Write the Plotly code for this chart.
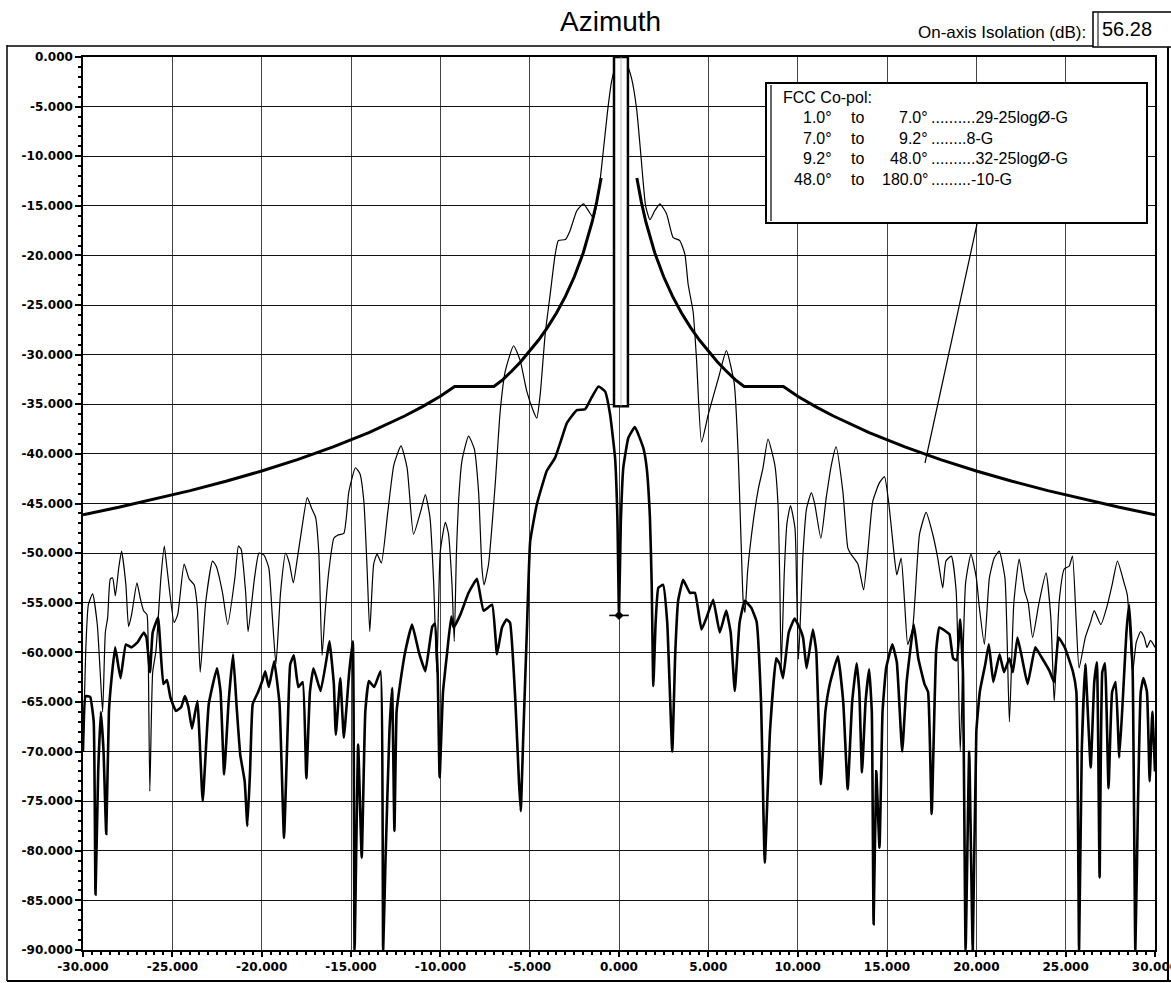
import plotly.graph_objects as go

# ---------------------------------------------------------------- data
# Co-polar azimuth pattern (normalised dB)
co_deg = [-30.0, -29.85, -29.7, -29.46, -29.2, -29.05, -28.9, -28.75, -28.62, -28.47, -28.34, -28.19,
          -28.0, -27.84, -27.6, -27.45, -27.28, -26.98, -26.8, -26.61, -26.42, -26.35, -26.26, -26.1,
          -25.92, -25.64, -25.45, -25.3, -24.9, -24.7, -24.34, -24.06, -23.78, -23.6, -23.44, -23.13,
          -22.75, -22.55, -22.2, -21.9, -21.5, -21.3, -21.15, -20.9, -20.76, -20.4, -20.15, -19.87,
          -19.6, -19.4, -19.2, -18.94, -18.66, -18.45, -18.23, -18.0, -17.75, -17.45, -17.2, -16.98,
          -16.8, -16.62, -16.45, -16.24, -15.96, -15.75, -15.4, -15.12, -14.75, -14.5, -14.28, -14.1,
          -13.95, -13.73, -13.54, -13.3, -12.95, -12.6, -12.2, -11.86, -11.5, -11.1, -10.84, -10.58,
          -10.37, -10.2, -10.0, -9.72, -9.55, -9.35, -9.22, -9.1, -8.98, -8.79, -8.42, -8.1,
          -7.86, -7.67, -7.55, -7.3, -6.93, -6.65, -6.37, -5.9, -5.53, -5.16, -4.79, -4.6,
          -4.41, -4.13, -3.85, -3.58, -3.39, -3.0, -2.74, -2.36, -1.99, -1.71, -1.43, -1.15,
          -0.91, -0.63, -0.41, -0.13, 0.15, 0.43, 0.71, 0.99, 1.23, 1.49, 1.73, 2.0,
          2.29, 2.66, 3.03, 3.4, 3.69, 3.87, 4.15, 4.34, 4.62, 5.0, 5.59, 6.01,
          6.45, 6.67, 6.85, 6.95, 7.05, 7.2, 7.5, 7.8, 8.06, 8.34, 8.72, 8.9,
          9.0, 9.08, 9.25, 9.4, 9.6, 9.85, 9.95, 10.05, 10.3, 10.5, 10.77, 10.95,
          11.3, 11.6, 11.9, 12.15, 12.53, 12.81, 12.98, 13.37, 13.69, 13.93, 14.2, 14.58,
          14.86, 15.1, 15.42, 15.55, 15.79, 15.98, 16.16, 16.44, 16.82, 17.19, 17.56, 17.84,
          18.12, 18.3, 18.6, 18.87, 19.1, 19.4, 19.7, 20.0, 20.17, 20.45, 20.73, 21.0,
          21.28, 21.6, 21.85, 22.1, 22.4, 22.7, 22.9, 23.15, 23.5, 23.9, 24.17, 24.36,
          24.64, 24.92, 25.2, 25.38, 25.58, 25.75, 26.1, 26.4, 26.6, 26.97, 27.34, 27.6,
          27.9, 28.27, 28.45, 28.6, 28.75, 28.95, 29.2, 29.4, 29.55, 29.75, 30.0]
co_db = [-70.0, -60.0, -55.2, -54.1, -57.2, -61.6, -66.0, -58.0, -56.5, -52.6, -52.5, -54.3,
         -51.5, -49.8, -53.2, -57.4, -56.2, -53.0, -54.5, -55.8, -56.2, -60.0, -74.0, -62.0,
         -59.9, -52.5, -49.3, -51.5, -57.0, -56.2, -51.1, -52.6, -53.2, -55.5, -62.0, -54.9,
         -50.8, -51.3, -53.9, -57.2, -52.5, -49.3, -49.6, -53.9, -57.9, -52.5, -50.0, -50.2,
         -51.5, -56.5, -61.2, -53.9, -50.0, -51.0, -53.0, -50.5, -47.5, -44.4, -45.5, -46.4,
         -50.0, -60.3, -56.0, -51.8, -48.5, -48.2, -48.0, -43.8, -41.4, -42.0, -44.8, -51.5,
         -57.9, -51.1, -50.1, -51.0, -46.0, -41.1, -39.2, -41.4, -48.1, -45.8, -44.1, -46.4,
         -53.1, -62.0, -49.8, -46.9, -48.0, -53.1, -58.9, -50.0, -44.8, -40.7, -38.2, -39.5,
         -43.8, -51.5, -53.2, -51.1, -43.1, -35.7, -31.7, -29.1, -30.6, -33.7, -35.7, -36.4,
         -34.0, -27.9, -23.9, -20.0, -18.5, -18.4, -17.5, -15.5, -14.8, -15.5, -16.2, -13.8,
         -10.0, -5.3, -2.4, -0.6, 0.0, -0.7, -2.2, -5.3, -10.0, -15.0, -16.4, -15.5,
         -14.8, -15.8, -18.2, -18.5, -19.9, -22.9, -25.7, -30.5, -38.8, -36.0, -32.2, -29.6,
         -32.9, -40.0, -49.8, -54.8, -56.0, -51.8, -47.0, -43.5, -41.4, -38.5, -41.1, -45.1,
         -53.0, -61.6, -52.0, -47.0, -45.2, -47.5, -54.0, -60.7, -50.0, -45.5, -43.9, -45.0,
         -48.5, -44.4, -41.0, -39.3, -43.8, -49.5, -50.1, -51.1, -53.7, -49.8, -44.8, -42.9,
         -42.3, -45.0, -50.5, -52.2, -50.5, -54.8, -59.2, -57.5, -48.1, -45.9, -48.1, -50.5,
         -53.5, -50.8, -50.3, -53.8, -70.0, -53.0, -50.1, -52.5, -55.5, -59.2, -52.5, -50.5,
         -49.8, -52.5, -67.0, -55.0, -50.6, -53.8, -55.0, -58.5, -55.1, -52.0, -56.5, -65.0,
         -54.8, -51.6, -51.3, -50.3, -56.5, -61.6, -58.5, -56.9, -55.8, -57.2, -55.2, -53.2,
         -50.8, -53.0, -54.2, -58.0, -62.0, -59.0, -57.9, -58.5, -59.5, -58.8, -59.5]

# Cross-polar azimuth pattern (dB relative to co-pol peak)
xp_deg = [-30.0, -29.85, -29.6, -29.4, -29.3, -29.15, -29.0, -28.85, -28.7, -28.55, -28.4, -28.2,
          -27.9, -27.6, -27.3, -26.95, -26.6, -26.45, -26.25, -26.1, -25.8, -25.5, -25.3, -25.1,
          -24.8, -24.5, -24.3, -24.1, -23.9, -23.6, -23.3, -22.96, -22.5, -22.3, -22.1, -21.85,
          -21.6, -21.4, -21.2, -20.95, -20.8, -20.65, -20.5, -20.2, -19.97, -19.8, -19.6, -19.3,
          -19.0, -18.75, -18.55, -18.4, -18.2, -17.95, -17.7, -17.5, -17.3, -17.1, -16.7, -16.3,
          -16.2, -15.96, -15.85, -15.6, -15.4, -15.1, -14.9, -14.8, -14.6, -14.4, -14.2, -14.0,
          -13.7, -13.35, -13.2, -13.07, -12.85, -12.7, -12.57, -12.45, -12.33, -11.96, -11.58, -11.2,
          -10.84, -10.45, -10.3, -10.15, -10.04, -9.85, -9.63, -9.39, -9.26, -8.88, -8.42, -7.95,
          -7.58, -7.1, -6.83, -6.55, -6.3, -6.1, -5.8, -5.6, -5.5, -5.35, -5.16, -4.97,
          -4.6, -4.04, -3.58, -3.2, -2.92, -2.36, -1.9, -1.53, -1.15, -0.78, -0.5, -0.22,
          -0.09, 0.0, 0.1, 0.24, 0.52, 0.89, 1.36, 1.55, 1.73, 1.83, 1.92, 2.05,
          2.2, 2.47, 2.7, 2.98, 3.15, 3.31, 3.59, 3.97, 4.25, 4.62, 4.9, 5.27,
          5.64, 6.0, 6.25, 6.48, 6.75, 7.04, 7.4, 7.7, 7.95, 8.16, 8.45, 8.8,
          9.0, 9.18, 9.5, 9.83, 10.1, 10.3, 10.5, 10.85, 11.04, 11.3, 11.55, 11.8,
          12.25, 12.55, 12.8, 13.05, 13.3, 13.45, 13.6, 13.8, 14.0, 14.15, 14.25, 14.4,
          14.58, 14.75, 14.95, 15.3, 15.55, 15.85, 16.1, 16.5, 16.75, 17.1, 17.3, 17.5,
          17.75, 17.93, 18.3, 18.5, 18.7, 18.9, 19.1, 19.25, 19.4, 19.6, 19.8, 20.0,
          20.2, 20.5, 20.7, 20.95, 21.3, 21.55, 21.85, 22.05, 22.3, 22.55, 22.87, 23.3,
          23.65, 24.1, 24.35, 24.6, 24.95, 25.4, 25.6, 25.75, 25.9, 26.1, 26.4, 26.6,
          26.75, 26.9, 27.05, 27.2, 27.4, 27.6, 27.8, 28.0, 28.2, 28.4, 28.55, 28.75,
          28.9, 29.05, 29.2, 29.35, 29.55, 29.7, 29.85, 30.0]
xp_db = [-70.0, -64.4, -64.5, -67.0, -84.4, -72.0, -66.0, -70.0, -78.3, -66.0, -62.6, -59.5,
         -62.6, -59.2, -59.5, -59.0, -58.0, -58.5, -62.0, -58.0, -56.5, -63.2, -62.8, -64.6,
         -65.9, -65.5, -64.4, -65.5, -67.7, -64.9, -75.0, -65.2, -61.6, -64.0, -72.3, -65.0,
         -60.2, -65.5, -70.3, -73.0, -77.5, -72.0, -65.2, -64.0, -62.9, -61.9, -63.5, -60.9,
         -65.2, -78.7, -68.0, -61.2, -60.3, -63.5, -63.0, -72.7, -64.0, -61.6, -63.9, -59.9,
         -58.9, -63.2, -68.3, -62.6, -68.6, -62.0, -58.9, -90.0, -69.3, -80.7, -66.0, -62.9,
         -63.5, -61.9, -90.0, -81.0, -68.0, -63.6, -78.0, -66.0, -64.2, -59.9, -57.2, -60.0,
         -61.9, -57.4, -57.1, -62.0, -72.6, -64.0, -60.2, -56.4, -57.5, -56.2, -54.0, -52.6,
         -55.8, -55.2, -60.2, -57.5, -56.7, -57.0, -64.9, -73.0, -76.0, -68.0, -58.0, -48.8,
         -45.1, -41.7, -40.4, -38.4, -36.9, -35.6, -35.5, -34.3, -33.2, -33.7, -36.0, -40.4,
         -46.4, -56.28, -47.0, -41.4, -38.4, -37.3, -39.4, -41.4, -46.4, -53.1, -63.4, -57.0,
         -53.5, -53.2, -57.0, -70.0, -60.0, -54.8, -52.7, -54.0, -54.0, -57.7, -56.5, -54.7,
         -58.0, -55.8, -58.0, -63.9, -57.0, -54.8, -55.5, -56.9, -65.0, -81.2, -68.0, -60.6,
         -61.2, -62.6, -58.0, -56.6, -57.5, -58.5, -61.6, -57.7, -59.9, -73.3, -66.0, -63.2,
         -60.4, -65.0, -73.8, -65.0, -61.1, -64.0, -72.1, -65.0, -61.7, -66.0, -87.4, -72.0,
         -79.7, -66.0, -61.6, -59.2, -61.0, -70.0, -63.0, -57.2, -60.6, -63.2, -64.0, -76.3,
         -59.9, -57.5, -57.9, -58.2, -60.6, -60.8, -56.7, -62.0, -90.0, -70.0, -90.0, -68.0,
         -63.9, -61.2, -59.2, -63.0, -60.2, -62.0, -60.6, -62.0, -58.5, -60.5, -63.2, -59.5,
         -60.5, -61.9, -63.0, -58.5, -59.5, -61.9, -64.0, -90.0, -70.0, -61.2, -71.6, -63.0,
         -61.0, -82.7, -62.0, -61.1, -73.7, -64.0, -63.0, -70.6, -64.7, -58.0, -55.2, -62.0,
         -90.0, -75.0, -64.0, -62.6, -64.0, -73.0, -66.0, -72.0]

# FCC co-pol envelope (one side, degrees off axis / dB below peak)
mask_deg = [1.0, 1.25, 1.5, 1.75, 2.0, 2.5, 3.0, 3.5, 4.0, 4.5, 5.0, 5.5, 6.0, 6.5, 7.0,
            9.2, 10.0, 11.0, 12.0, 14.0, 16.0, 18.0, 20.0, 22.0, 24.0, 26.0, 28.0, 30.0]
mask_db = [-12.2, -14.62, -16.6, -18.28, -19.73, -22.15, -24.13, -25.8, -27.25, -28.53, -29.67,
           -30.71, -31.65, -32.52, -33.2, -33.2, -34.2, -35.24, -36.18, -37.85, -39.3, -40.58,
           -41.73, -42.76, -43.7, -44.57, -45.38, -46.13]

# On-axis isolation reading
isolation_deg = 0.0
isolation_db = -56.28
isolation_text = "56.28"

# Boresight window
window_deg = [-0.28, 0.5]
window_db = [-35.2, 0.0]

# Axis ticks
x_tick_vals = [-30, -25, -20, -15, -10, -5, 0, 5, 10, 15, 20, 25, 30]
x_tick_text = ["-30.000", "-25.000", "-20.000", "-15.000", "-10.000", "-5.000", "0.000",
               "5.000", "10.000", "15.000", "20.000", "25.000", "30.000"]
y_tick_vals = [0, -5, -10, -15, -20, -25, -30, -35, -40, -45, -50, -55, -60, -65, -70, -75,
               -80, -85, -90]
y_tick_text = ["0.000", "-5.000", "-10.000", "-15.000", "-20.000", "-25.000", "-30.000",
               "-35.000", "-40.000", "-45.000", "-50.000", "-55.000", "-60.000", "-65.000",
               "-70.000", "-75.000", "-80.000", "-85.000", "-90.000"]

# Mask description rows
mask_rows = [("1.0°", "7.0°", "..........29-25logØ-G"),
             ("7.0°", "9.2°", "........8-G"),
             ("9.2°", "48.0°", "..........32-25logØ-G"),
             ("48.0°", "180.0°", ".........-10-G")]

# ---------------------------------------------------------------- layout helpers
W, H = 1171, 983
ML, MR, MT, MB = 83, 16, 57, 33
PW, PH = W - ML - MR, H - MT - MB


def px(x):
    return (x - ML) / PW


def py(y):
    return (H - MB - y) / PH


TXT = "Liberation Sans, Arial, sans-serif"
TICK = dict(family="DejaVu Sans, sans-serif", size=12, color="black", weight="bold")

fig = go.Figure()

fig.add_trace(go.Scatter(x=co_deg, y=co_db, mode="lines",
                         line=dict(color="black", width=1.2, shape="spline", smoothing=0.5),
                         hoverinfo="skip"))
fig.add_trace(go.Scatter(x=xp_deg, y=xp_db, mode="lines",
                         line=dict(color="black", width=2.6, shape="spline", smoothing=0.35),
                         hoverinfo="skip"))
fig.add_trace(go.Scatter(x=mask_deg, y=mask_db, mode="lines",
                         line=dict(color="black", width=3), hoverinfo="skip"))
fig.add_trace(go.Scatter(x=[-d for d in mask_deg], y=mask_db, mode="lines",
                         line=dict(color="black", width=3), hoverinfo="skip"))
fig.add_trace(go.Scatter(x=[isolation_deg], y=[isolation_db], mode="markers",
                         marker=dict(symbol="line-ew-open", size=14, color="black",
                                     line=dict(width=1.6, color="black")),
                         hoverinfo="skip"))
fig.add_trace(go.Scatter(x=[isolation_deg], y=[isolation_db], mode="markers",
                         marker=dict(symbol="diamond", size=7, color="black"),
                         hoverinfo="skip"))

shapes = []
# boresight window
shapes.append(dict(type="rect", xref="x", yref="y", x0=window_deg[0], x1=window_deg[1],
                   y0=window_db[0], y1=window_db[1], fillcolor="white",
                   line=dict(color="black", width=2.5), layer="above"))
shapes.append(dict(type="line", xref="x", yref="y", x0=sum(window_deg) / 2,
                   x1=sum(window_deg) / 2, y0=window_db[0], y1=window_db[1],
                   line=dict(color="#aaa", width=0.8), layer="above"))

# outer page frame
shapes.append(dict(type="line", xref="paper", yref="paper", x0=px(7), x1=px(7),
                   y0=py(45), y1=py(981), line=dict(color="black", width=1.5)))
shapes.append(dict(type="line", xref="paper", yref="paper", x0=px(7), x1=px(1171),
                   y0=py(46), y1=py(46), line=dict(color="black", width=1.5)))
shapes.append(dict(type="line", xref="paper", yref="paper", x0=px(7), x1=px(1171),
                   y0=py(981), y1=py(981), line=dict(color="black", width=2)))
shapes.append(dict(type="line", xref="paper", yref="paper", x0=px(1168), x1=px(1168),
                   y0=py(46), y1=py(981), line=dict(color="black", width=2)))

# isolation readout box
shapes.append(dict(type="rect", xref="paper", yref="paper", x0=px(1093), x1=px(1180),
                   y0=py(47), y1=py(12), fillcolor="white",
                   line=dict(color="black", width=1.5)))
shapes.append(dict(type="line", xref="paper", yref="paper", x0=px(1098), x1=px(1098),
                   y0=py(46), y1=py(13), line=dict(color="black", width=1)))

# mask description box and its leader line
shapes.append(dict(type="line", xref="paper", yref="paper", x0=px(977), x1=px(925),
                   y0=py(224), y1=py(463), line=dict(color="black", width=1.2)))
shapes.append(dict(type="rect", xref="paper", yref="paper", x0=px(766), x1=px(1147),
                   y0=py(223), y1=py(83), fillcolor="white",
                   line=dict(color="black", width=2)))
shapes.append(dict(type="line", xref="paper", yref="paper", x0=px(771), x1=px(771),
                   y0=py(221), y1=py(85), line=dict(color="black", width=1.2)))

ann = []
ann.append(dict(text="Azimuth", x=px(610), y=py(22), xref="paper", yref="paper",
                showarrow=False, xanchor="center", yanchor="middle",
                font=dict(family=TXT, size=28, color="black")))
ann.append(dict(text="On-axis Isolation (dB):", x=px(1088), y=py(32), xref="paper",
                yref="paper", showarrow=False, xanchor="right", yanchor="middle",
                font=dict(family=TXT, size=17, color="black")))
ann.append(dict(text=isolation_text, x=px(1100), y=py(29), xref="paper", yref="paper",
                showarrow=False, xanchor="left", yanchor="middle",
                font=dict(family=TXT, size=20, color="black")))
ann.append(dict(text="FCC Co-pol:", x=px(781), y=py(98), xref="paper", yref="paper",
                showarrow=False, xanchor="left", yanchor="middle",
                font=dict(family=TXT, size=16, color="black")))
row_y = [118, 138, 158, 179]
for (a, b, rule), yy in zip(mask_rows, row_y):
    f = dict(family=TXT, size=16, color="black")
    ann.append(dict(text=a, x=px(834), y=py(yy), xref="paper", yref="paper",
                    showarrow=False, xanchor="right", yanchor="middle", font=f))
    ann.append(dict(text="to", x=px(849), y=py(yy), xref="paper", yref="paper",
                    showarrow=False, xanchor="left", yanchor="middle", font=f))
    ann.append(dict(text=b, x=px(930), y=py(yy), xref="paper", yref="paper",
                    showarrow=False, xanchor="right", yanchor="middle", font=f))
    ann.append(dict(text=rule, x=px(929), y=py(yy), xref="paper", yref="paper",
                    showarrow=False, xanchor="left", yanchor="middle", font=f))

fig.update_layout(
    width=W, height=H,
    margin=dict(l=ML, r=MR, t=MT, b=MB, pad=0, autoexpand=False),
    paper_bgcolor="white", plot_bgcolor="white",
    showlegend=False,
    shapes=shapes, annotations=ann,
    xaxis=dict(range=[-30, 30], tickvals=x_tick_vals, ticktext=x_tick_text,
               ticks="outside", ticklen=5, tickwidth=1.5, tickcolor="black",
               tickfont=TICK, ticklabeloverflow="allow", automargin=False,
               showgrid=True, gridcolor="#444", gridwidth=1,
               showline=True, linecolor="black", linewidth=1.5, mirror=True,
               zeroline=False, fixedrange=True,
               minor=dict(dtick=0.5, tick0=0, ticks="outside", ticklen=3,
                          tickcolor="black", showgrid=False)),
    yaxis=dict(range=[-90, 0], tickvals=y_tick_vals, ticktext=y_tick_text,
               ticks="outside", ticklen=6, tickwidth=1.5, tickcolor="black",
               tickfont=TICK, ticklabeloverflow="allow", automargin=False,
               showgrid=True, gridcolor="#111", gridwidth=1.2,
               showline=True, linecolor="black", linewidth=1.5, mirror=True,
               zeroline=False, fixedrange=True,
               minor=dict(dtick=1, tick0=0, ticks="outside", ticklen=3,
                          tickcolor="black", showgrid=False)),
)

fig.write_html("out.html", config={"displayModeBar": False})
